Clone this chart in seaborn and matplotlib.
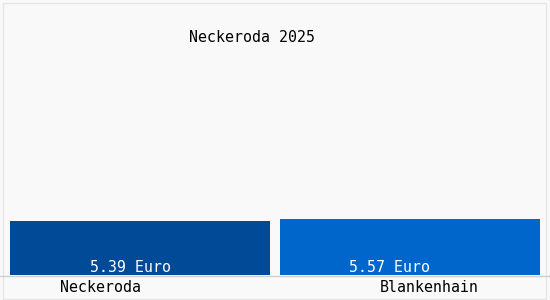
import matplotlib
matplotlib.use("Agg")
import matplotlib.pyplot as plt
import seaborn as sns
import pandas as pd

categories = ["Neckeroda", "Blankenhain"]
values = [5.39, 5.57]
value_labels = ["5.39 Euro", "5.57 Euro"]
title = "Neckeroda 2025"
colors = ["#004a97", "#0066cc"]

sns.set_theme(style="white")
plt.rcParams["font.family"] = ["DejaVu Sans Mono", "DejaVu Sans"]

W, H = 550, 300
fig = plt.figure(figsize=(W / 100, H / 100), dpi=100, facecolor="#f9f9f9")

# axes: x from 5 to 545 px, y baseline at 275 px, 10 px per unit
ax = fig.add_axes([5 / W, (H - 275) / H, 540 / W, 275 / H])
ax.set_facecolor("#f9f9f9")

df = pd.DataFrame({"cat": categories, "val": values})
sns.barplot(data=df, x="cat", y="val", hue="cat", palette=colors,
            width=0.965, saturation=1, legend=False, linewidth=0, ax=ax)

ax.set_xlim(-0.5, 1.5)
ax.set_ylim(0, 27.5)
for s in ["top", "right", "left", "bottom"]:
    ax.spines[s].set_visible(False)
ax.set_xticks([])
ax.set_yticks([])
ax.set_xlabel("")
ax.set_ylabel("")

# baseline
fig.add_artist(plt.Line2D([0, 1], [(H - 275.5) / H] * 2, color="#cfcfcf", lw=1))
# faint frame
fig.add_artist(plt.Rectangle((2.5 / W, 1.5 / H), 543 / W, 296 / H, fill=False,
                             edgecolor="#e6e6e6", lw=1))

fs = 10.7
val_off = [-0.037, -0.077]
cat_off = [-0.148, 0.071]
for i, (lab, cat) in enumerate(zip(value_labels, categories)):
    ax.text(i + val_off[i], 0.7, lab, ha="center", va="center",
            color="#ffffff", fontsize=fs)
    ax.text(i + cat_off[i], -1.2, cat, ha="center", va="center",
            color="#000000", fontsize=fs, clip_on=False)

fig.text(252 / W, 1 - 38 / H, title, ha="center", va="center",
         color="#000000", fontsize=fs)

fig.savefig("out.png", dpi=100, facecolor=fig.get_facecolor())
